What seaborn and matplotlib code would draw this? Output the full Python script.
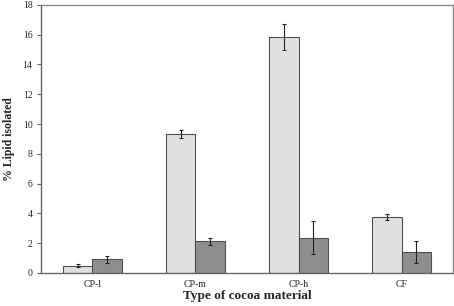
import numpy as np
import pandas as pd
import matplotlib
matplotlib.use("Agg")
import matplotlib.pyplot as plt
import seaborn as sns

# values
materials = ["CP-l", "CP-m", "CP-h", "CF"]
series = ["A", "B"]
lipid_a = [0.5, 9.3, 15.85, 3.75]
lipid_b = [0.92, 2.12, 2.38, 1.42]
err_a = [0.11, 0.27, 0.86, 0.2]
err_b = [0.24, 0.26, 1.1, 0.72]

df = pd.DataFrame({
    "material": materials * 2,
    "series": [series[0]] * 4 + [series[1]] * 4,
    "lipid": lipid_a + lipid_b,
    "err": err_a + err_b,
})

sns.set_style("white")
plt.rcParams["font.family"] = ["Liberation Serif", "DejaVu Serif"]

fig = plt.figure(figsize=(4.54, 3.06), dpi=100)
ax = fig.add_axes([0.090, 0.108, 0.908, 0.876])

sns.barplot(data=df, x="material", y="lipid", hue="series", order=materials,
            hue_order=series, palette=["#e0e0e0", "#8e8e8e"], width=0.57,
            edgecolor="#505050", linewidth=0.8, errorbar=None, legend=False, ax=ax)

# error bars on the bar centres
for p, (_, row) in zip(ax.patches, df.iterrows()):
    xc = p.get_x() + p.get_width() / 2
    ax.errorbar(xc, p.get_height(), yerr=row["err"], fmt="none",
                ecolor="#222222", elinewidth=0.8, capsize=1.5, capthick=0.8)

ax.set_ylim(0, 18)
ax.set_yticks(np.arange(0, 19, 2))
ax.set_xlim(-0.5, 3.5)
ax.set_xticks(range(4))
ax.set_xticks(np.arange(-0.5, 4, 1), minor=True)
ax.tick_params(axis="x", which="major", length=0, labelsize=7, pad=5)
ax.tick_params(axis="x", which="minor", length=3, width=0.8, color="#666666", direction="out")
ax.tick_params(axis="y", length=3, width=0.8, color="#666666", labelsize=7, left=True, pad=3)

for s in ax.spines.values():
    s.set_color("#8a8a8a")
    s.set_linewidth(1.0)
ax.spines["bottom"].set_color("#666666")
ax.spines["left"].set_color("#666666")

ax.set_xlabel("Type of cocoa material", fontsize=9.5, fontweight="bold")
ax.set_ylabel("% Lipid isolated", fontsize=8.5, fontweight="bold")
ax.xaxis.set_label_coords(0.5, -0.064, transform=ax.transAxes)
ax.yaxis.set_label_coords(-0.062, 0.5, transform=ax.transAxes)

fig.savefig("out.png", dpi=100)
